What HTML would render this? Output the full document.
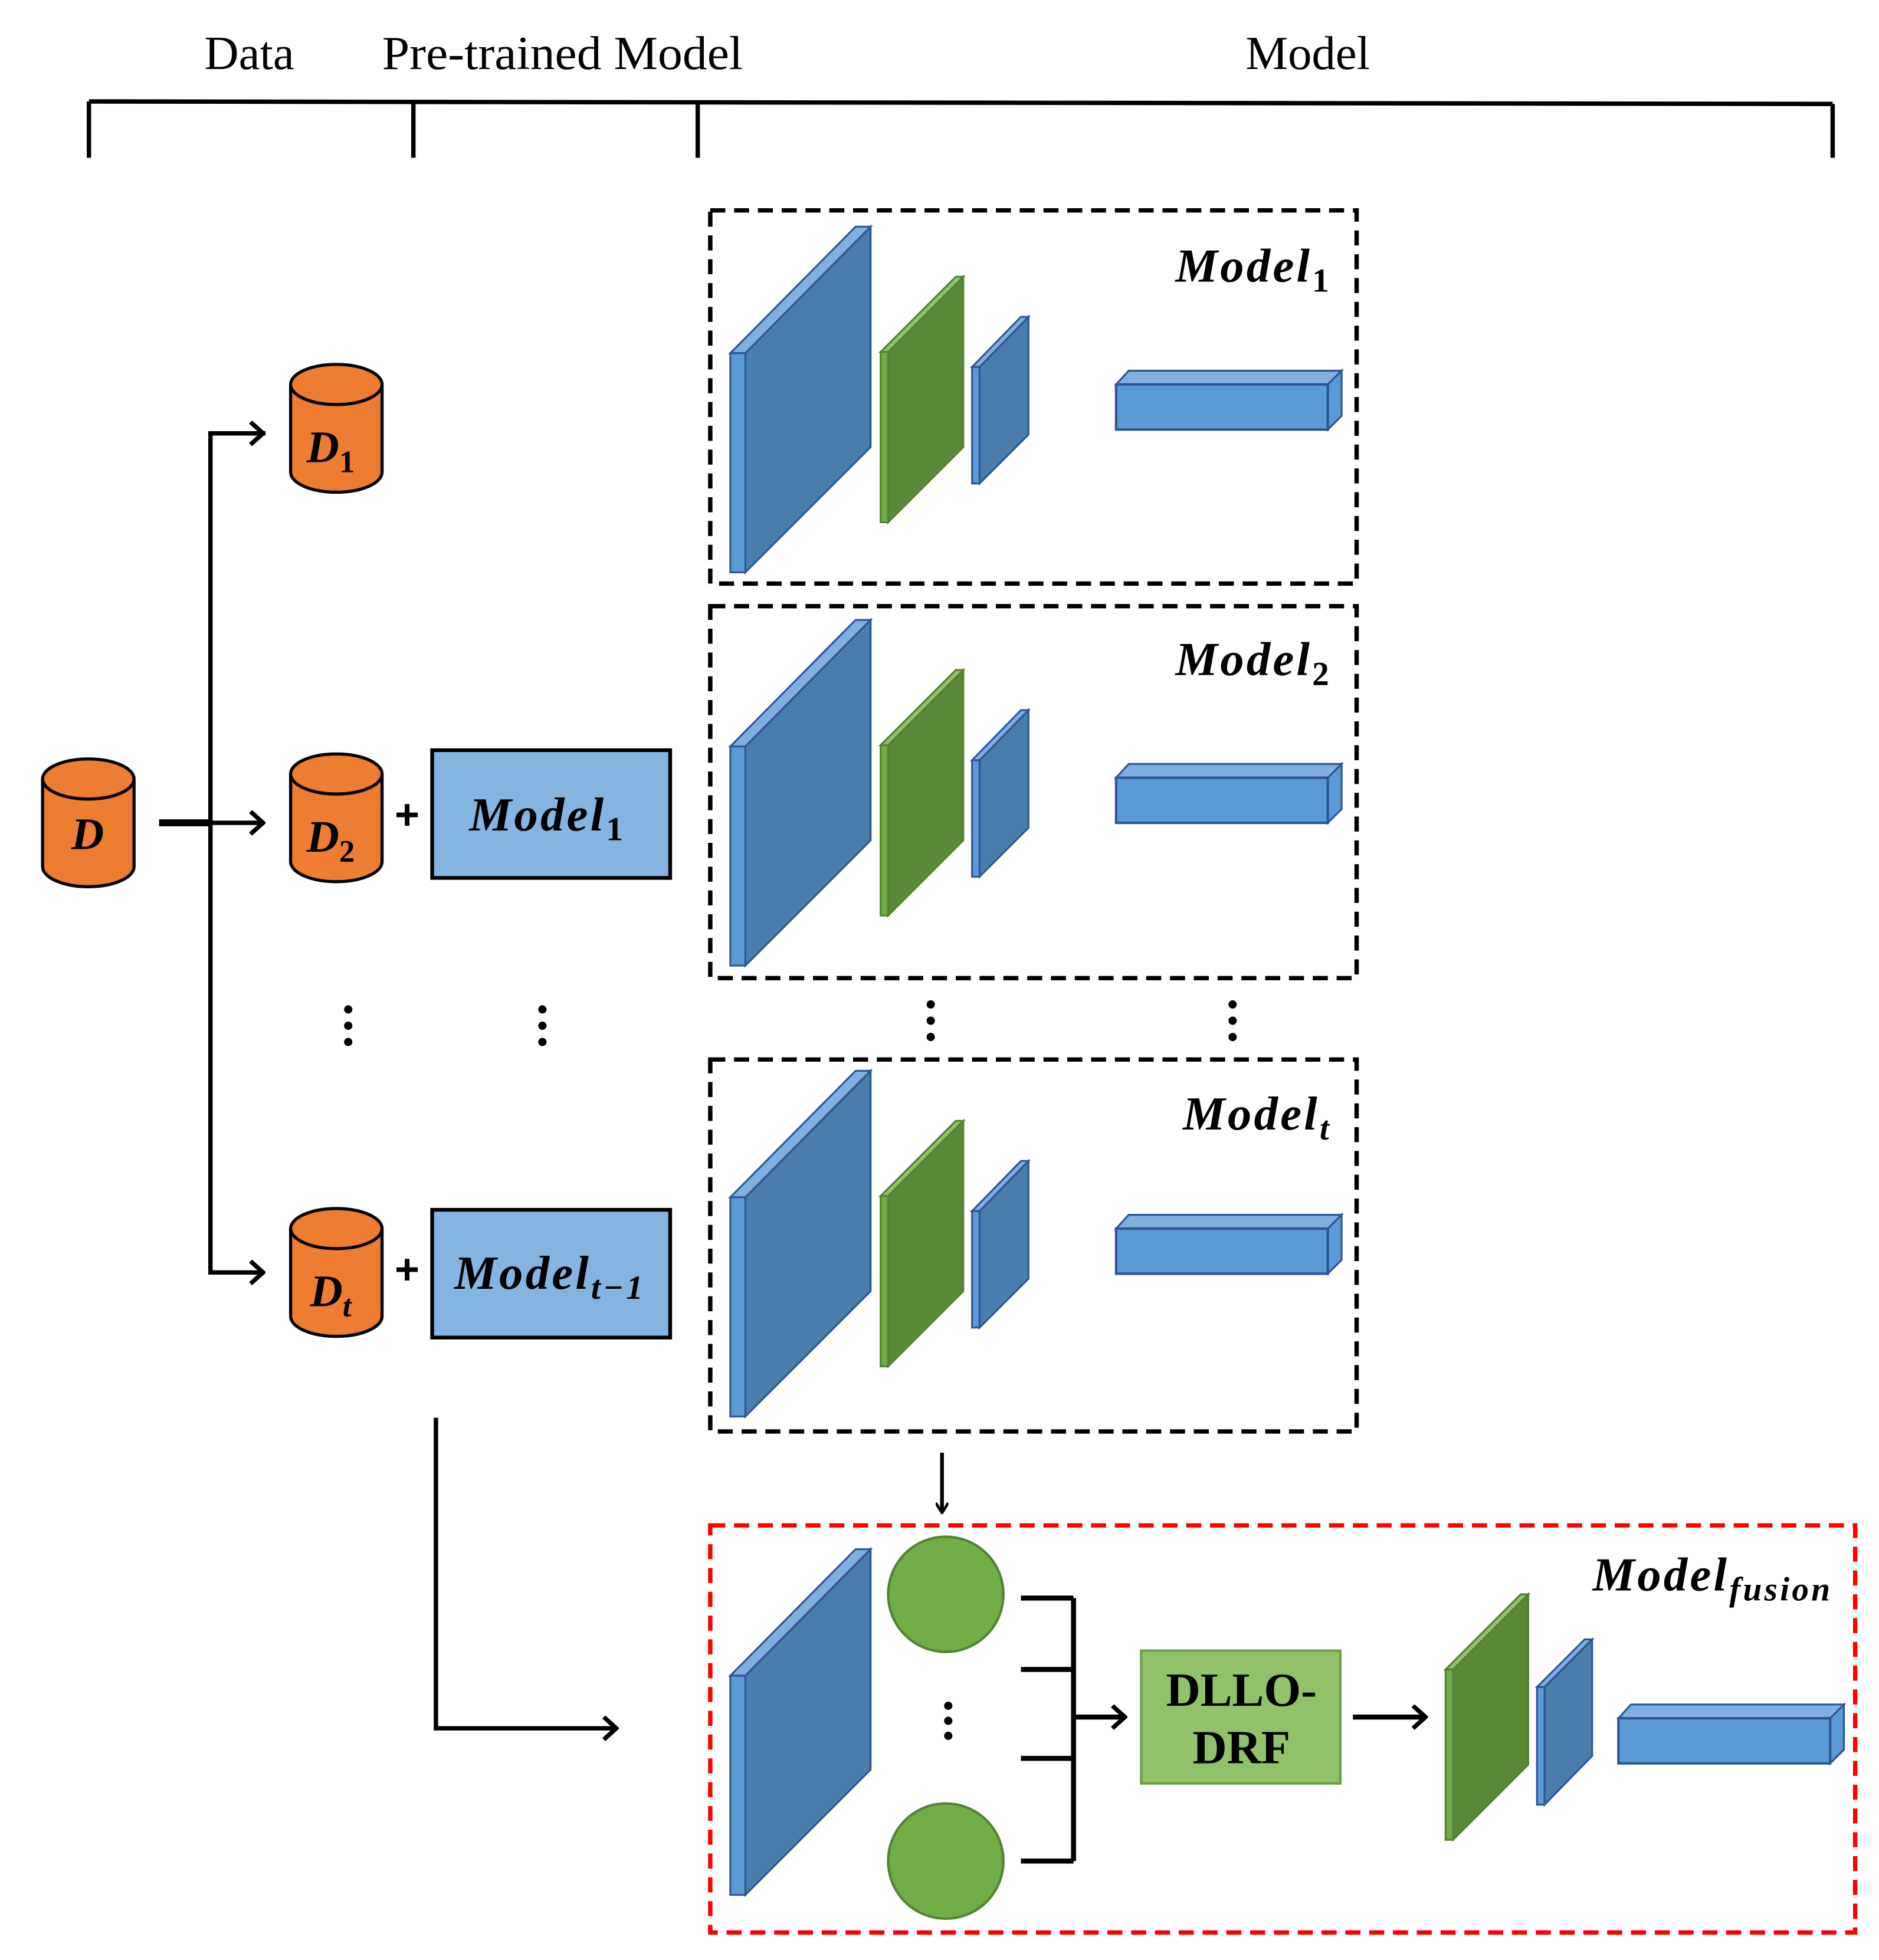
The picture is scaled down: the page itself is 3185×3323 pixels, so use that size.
<!DOCTYPE html>
<html><head><meta charset="utf-8"><style>html,body{margin:0;padding:0;background:#fff}svg{display:block}</style></head>
<body>
<svg width="3185" height="3323" viewBox="0 0 1500 1565" xmlns="http://www.w3.org/2000/svg" font-family="Liberation Serif, serif">
<defs>
<marker id="ah" markerWidth="10" markerHeight="10" refX="8" refY="5" orient="auto" markerUnits="userSpaceOnUse" viewBox="0 0 10 10">
<path d="M1,0 L9,5 L1,10" fill="none" stroke="#000" stroke-width="2.2"/></marker>
<marker id="ah2" markerWidth="16" markerHeight="20" refX="14" refY="10" orient="auto" markerUnits="userSpaceOnUse">
<path d="M4,1 L14,10 L4,19" fill="none" stroke="#000" stroke-width="3.5"/></marker>
<g id="net">
<polygon points="595,282 695,181 695,357 595,457" fill="#4A7EAD" stroke="#2F5597" stroke-width="1.5"/>
<polygon points="583,282 683,181 695,181 595,282" fill="#7FB0E0" stroke="#2F5597" stroke-width="1.5"/>
<polygon points="583,282 595,282 595,457 583,457" fill="#5B9BD5" stroke="#2F5597" stroke-width="1.5"/>
<polygon points="709,281 769,221 769,357 709,417" fill="#5A8A38" stroke="#548235" stroke-width="1.5"/>
<polygon points="703,281 763,221 769,221 709,281" fill="#8CC56A" stroke="#548235" stroke-width="1.5"/>
<polygon points="703,281 709,281 709,417 703,417" fill="#70AD47" stroke="#548235" stroke-width="1.5"/>
<polygon points="782,293 821,253 821,347 782,386" fill="#4A7EAD" stroke="#2F5597" stroke-width="1.5"/>
<polygon points="776,293 815,253 821,253 782,293" fill="#7FB0E0" stroke="#2F5597" stroke-width="1.5"/>
<polygon points="776,293 782,293 782,386 776,386" fill="#5B9BD5" stroke="#2F5597" stroke-width="1.5"/>
<g id="bar">
<polygon points="891,307 901,296 1071,296 1060,307" fill="#7FB0E0" stroke="#2F5597" stroke-width="1.5"/>
<polygon points="1060,307 1071,296 1071,332 1060,343" fill="#5B9BD5" stroke="#2F5597" stroke-width="1.5"/>
<rect x="891" y="307" width="169" height="36" fill="#5B9BD5" stroke="#2F5597" stroke-width="2"/>
</g>
</g>
<g id="cyl">
<path d="M0,16 L0,86 A36.5,16 0 0 0 73,86 L73,16" fill="#ED7D31" stroke="#000" stroke-width="2.5"/>
<ellipse cx="36.5" cy="16" rx="36.5" ry="16" fill="#ED7D31" stroke="#000" stroke-width="2.5"/>
</g>
</defs>

<g font-size="38" text-anchor="middle">
<text x="199" y="55">Data</text>
<text x="449" y="55" textLength="288" lengthAdjust="spacingAndGlyphs">Pre-trained Model</text>
<text x="1044" y="55">Model</text>
</g>
<g stroke="#000" stroke-width="3.5" fill="none">
<path d="M71,81 L1463,83"/>
<path d="M71,81 V126 M330,81 V126 M557,82 V126 M1463,83 V126"/>
</g>

<g stroke="#000" stroke-width="3.5" fill="none" stroke-dasharray="12,7">
<rect x="567" y="168" width="516" height="298"/>
<rect x="567" y="484" width="516" height="297"/>
<rect x="567" y="846" width="516" height="297"/>
</g>
<rect x="567" y="1218" width="914" height="325" fill="none" stroke="#FF0000" stroke-width="3.5" stroke-dasharray="12,7"/>

<use href="#net"/>
<use href="#net" y="314"/>
<use href="#net" y="674"/>

<g font-size="38" font-weight="bold" font-style="italic" text-anchor="end" letter-spacing="2">
<text x="1063" y="225">Model<tspan font-size="27" dy="8" font-style="normal">1</tspan></text>
<text x="1063" y="539">Model<tspan font-size="27" dy="8" font-style="normal">2</tspan></text>
<text x="1063" y="902">Model<tspan font-size="27" dy="8">t</tspan></text>
<text x="1463" y="1270">Model<tspan font-size="27" dy="8">fusion</tspan></text>
</g>

<use href="#cyl" x="232" y="291"/>
<use href="#cyl" x="232" y="602"/>
<use href="#cyl" x="232" y="965"/>
<use href="#cyl" x="34" y="606"/>
<g font-size="36" font-weight="bold" font-style="italic" text-anchor="middle">
<text x="264" y="369">D<tspan font-size="25" dy="8" font-style="normal">1</tspan></text>
<text x="264" y="680">D<tspan font-size="25" dy="8" font-style="normal">2</tspan></text>
<text x="264" y="1043">D<tspan font-size="25" dy="8">t</tspan></text>
<text x="70" y="678">D</text>
</g>

<g stroke="#000" stroke-width="3.5" fill="none">
<path d="M212,346 H168 V1016 H210" marker-end="url(#ah2)"/>
<path d="M168,346 H210" marker-end="url(#ah2)"/>
<path d="M168,657 H210" marker-end="url(#ah2)"/>
<path d="M127,657 H168" stroke-width="5.5"/>
</g>

<g font-size="34" font-weight="bold" text-anchor="middle" font-family="Liberation Sans, sans-serif">
<text x="325" y="662">+</text>
<text x="325" y="1025">+</text>
</g>
<rect x="345" y="599" width="190" height="102" fill="#84B5E0" stroke="#000" stroke-width="3"/>
<rect x="345" y="966" width="190" height="102" fill="#84B5E0" stroke="#000" stroke-width="3"/>
<g font-size="38" font-weight="bold" font-style="italic" text-anchor="middle" letter-spacing="2">
<text x="437" y="663">Model<tspan font-size="27" dy="8" font-style="normal">1</tspan></text>
<text x="439" y="1029">Model<tspan font-size="27" dy="8">t−1</tspan></text>
</g>

<g fill="#000">
<circle cx="278" cy="806" r="3.3"/><circle cx="278" cy="819" r="3.3"/><circle cx="278" cy="832" r="3.3"/>
<circle cx="433" cy="806" r="3.3"/><circle cx="433" cy="819" r="3.3"/><circle cx="433" cy="832" r="3.3"/>
<circle cx="743" cy="802" r="3.3"/><circle cx="743" cy="815" r="3.3"/><circle cx="743" cy="828" r="3.3"/>
<circle cx="984" cy="802" r="3.3"/><circle cx="984" cy="815" r="3.3"/><circle cx="984" cy="828" r="3.3"/>
<circle cx="757" cy="1362" r="3.3"/><circle cx="757" cy="1374" r="3.3"/><circle cx="757" cy="1386" r="3.3"/>
</g>

<path d="M752,1160 V1207" stroke="#000" stroke-width="3" fill="none" marker-end="url(#ah)"/>
<path d="M348,1132 V1380 H492" stroke="#000" stroke-width="3.5" fill="none" marker-end="url(#ah2)"/>

<g transform="translate(0,1056)">
<polygon points="595,282 695,181 695,357 595,457" fill="#4A7EAD" stroke="#2F5597" stroke-width="1.5"/>
<polygon points="583,282 683,181 695,181 595,282" fill="#7FB0E0" stroke="#2F5597" stroke-width="1.5"/>
<polygon points="583,282 595,282 595,457 583,457" fill="#5B9BD5" stroke="#2F5597" stroke-width="1.5"/>
</g>
<circle cx="755" cy="1273" r="46" fill="#70AD47" stroke="#548235" stroke-width="2"/>
<circle cx="755" cy="1486" r="46" fill="#70AD47" stroke="#548235" stroke-width="2"/>
<g stroke="#000" stroke-width="4" fill="none">
<path d="M815,1276 H857 M815,1333 H857 M815,1404 H857 M815,1486 H857 M857,1276 V1486"/>
<path d="M857,1371 H898" marker-end="url(#ah2)"/>
<path d="M1080,1371 H1138" marker-end="url(#ah2)"/>
</g>
<rect x="911" y="1318" width="159" height="106" fill="#91C26A" stroke="#6E9E4A" stroke-width="2"/>
<g font-size="38" font-weight="bold" text-anchor="middle">
<text x="991" y="1362">DLLO-</text>
<text x="991" y="1408">DRF</text>
</g>
<polygon points="1160,1333 1220,1273 1220,1409 1160,1469" fill="#5A8A38" stroke="#548235" stroke-width="1.5"/>
<polygon points="1154,1333 1214,1273 1220,1273 1160,1333" fill="#8CC56A" stroke="#548235" stroke-width="1.5"/>
<polygon points="1154,1333 1160,1333 1160,1469 1154,1469" fill="#70AD47" stroke="#548235" stroke-width="1.5"/>
<polygon points="1233,1347 1271,1309 1271,1402 1233,1441" fill="#4A7EAD" stroke="#2F5597" stroke-width="1.5"/>
<polygon points="1227,1347 1265,1309 1271,1309 1233,1347" fill="#7FB0E0" stroke="#2F5597" stroke-width="1.5"/>
<polygon points="1227,1347 1233,1347 1233,1441 1227,1441" fill="#5B9BD5" stroke="#2F5597" stroke-width="1.5"/>
<use href="#bar" x="401" y="1065"/>
</svg>
</body></html>
